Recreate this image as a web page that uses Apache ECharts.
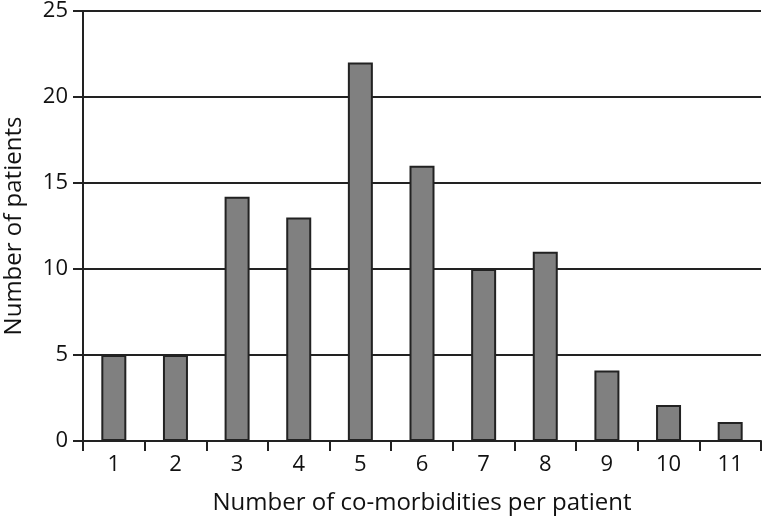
<!DOCTYPE html>
<html><head><meta charset="utf-8">
<script src="https://cdn.jsdelivr.net/npm/echarts@6/dist/echarts.min.js"></script>
<style>html,body{margin:0;padding:0;background:#fff}#c{width:762px;height:520px}</style>
</head><body><div id="c"></div>
<script>
const categories = ['1','2','3','4','5','6','7','8','9','10','11'];
const patients = [5, 5, 14.2, 13, 22, 16, 10, 11, 4.1, 2.1, 1.1];
const yTicks = [0, 5, 10, 15, 20, 25];

const font = '"Open Sans", "Noto Sans", sans-serif';
const chart = echarts.init(document.getElementById('c'), null, {renderer: 'canvas'});
chart.setOption({
  animation: false,
  grid: {left: 83, right: 1, top: 11, bottom: 79, containLabel: false, outerBoundsMode: 'none'},
  xAxis: {
    type: 'category',
    data: categories,
    name: 'Number of co-morbidities per patient',
    nameLocation: 'middle',
    nameGap: 50,
    nameTextStyle: {fontFamily: font, fontSize: 24, color: '#111'},
    axisLine: {lineStyle: {color: '#222', width: 2}},
    axisTick: {show: true, length: 10, lineStyle: {color: '#222', width: 2}, alignWithLabel: false},
    axisLabel: {fontFamily: font, fontSize: 22, color: '#111', margin: 13}
  },
  yAxis: {
    type: 'value',
    min: yTicks[0],
    max: yTicks[yTicks.length - 1],
    interval: 5,
    name: 'Number of patients',
    nameLocation: 'middle',
    nameGap: 57,
    nameTextStyle: {fontFamily: font, fontSize: 24, color: '#111'},
    axisLine: {show: true, lineStyle: {color: '#222', width: 2}},
    axisTick: {show: true, length: 10, lineStyle: {color: '#222', width: 2}},
    axisLabel: {fontFamily: font, fontSize: 22, color: '#111', margin: 15},
    splitLine: {show: true, lineStyle: {color: '#222', width: 2}}
  },
  series: [{
    type: 'bar',
    data: patients,
    barWidth: 25,
    itemStyle: {color: '#808080', borderColor: '#222', borderWidth: 2}
  }]
});
</script></body></html>
